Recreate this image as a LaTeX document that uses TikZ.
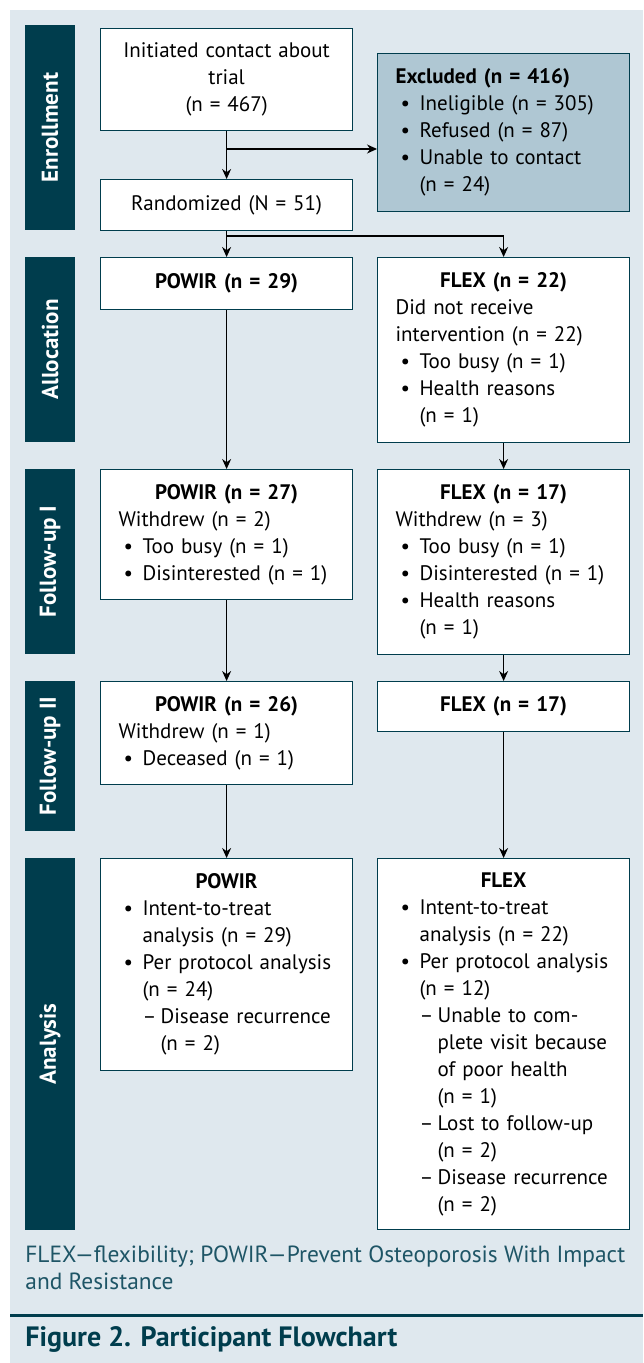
\documentclass[tikz,border=0pt]{standalone}
\usepackage{fontspec}
\setmainfont{PT Sans}
\usetikzlibrary{arrows.meta}

\definecolor{bgcol}{HTML}{DFE8EE}
\definecolor{barcol}{HTML}{003D4D}
\definecolor{exclcol}{HTML}{AFC7D3}
\definecolor{captcol}{HTML}{1E5566}

% bullet and dash items with hanging indent
\newcommand\bul[1]{\par\noindent\hangindent=12pt\hangafter=1\makebox[12pt][l]{\hspace{2.5pt}\textbullet}#1\par}
\newcommand\dsh[1]{\par\noindent\hangindent=21pt\hangafter=1\makebox[21pt][l]{\hspace{12pt}\textendash}#1\par}

\tikzset{
  box/.style={draw=barcol, line width=0.6pt, fill=white, rectangle, anchor=north west,
    inner xsep=9pt, inner ysep=1pt, text width=108pt, align=left,
    font=\fontsize{10.5}{13.5}\selectfont},
  phase/.style={fill=barcol, rotate=90, inner sep=0pt, minimum height=25pt,
    text=white, font=\bfseries\fontsize{11.5}{13}\selectfont},
  flow/.style={-{Stealth[length=5pt,width=4.5pt]}, line width=0.6pt},
}

\begin{document}
\begin{tikzpicture}[x=0.5pt,y=-0.5pt]
\useasboundingbox (0,0) rectangle (643,1363);
\fill[bgcol] (10,10) rectangle (643,1363);

% Phase bars
\node[phase, minimum width=102.5pt] (enr) at (50,127.5) {Enrollment};
\node[phase, minimum width=92.5pt] (alc) at (50,349.5) {Allocation};
\node[phase, minimum width=92.5pt] (fua) at (50,561.5) {Follow-up I};
\node[phase, minimum width=75pt] (fub) at (50,756) {Follow-up II};
\node[phase, minimum width=186pt] (ana) at (50,1044) {Analysis};

% Enrollment
\node[box, align=center, minimum height=51pt] (init) at (100,28)
  {Initiated contact about\\trial\\(n = 467)};
\node[box, fill=exclcol, minimum height=79pt] (excl) at (377,53)
  {\textbf{Excluded (n = 416)}
   \bul{Ineligible (n = 305)}
   \bul{Refused (n = 87)}
   \bul{Unable to contact\newline (n = 24)}};
\node[box, align=center, minimum height=25.5pt] (rand) at (100,179)
  {Randomized (N = 51)};

% Allocation
\node[box, align=center, minimum height=26pt] (powA) at (100,257)
  {\textbf{POWIR (n = 29)}};
\node[box, minimum height=92.5pt] (flexA) at (377,257)
  {{\centering\bfseries FLEX (n = 22)\par}
   Did not receive\newline intervention (n = 22)
   \bul{Too busy (n = 1)}
   \bul{Health reasons\newline (n = 1)}};

% Follow-up I
\node[box, minimum height=65pt] (powB) at (100,469)
  {{\centering\bfseries POWIR (n = 27)\par}
   Withdrew (n = 2)
   \bul{Too busy (n = 1)}
   \bul{Disinterested (n = 1)}};
\node[box, minimum height=92.5pt] (flexB) at (377,469)
  {{\centering\bfseries FLEX (n = 17)\par}
   Withdrew (n = 3)
   \bul{Too busy (n = 1)}
   \bul{Disinterested (n = 1)}
   \bul{Health reasons\newline (n = 1)}};

% Follow-up II
\node[box, minimum height=51.5pt] (powC) at (100,681)
  {{\centering\bfseries POWIR (n = 26)\par}
   Withdrew (n = 1)
   \bul{Deceased (n = 1)}};
\node[box, align=center, minimum height=25pt] (flexC) at (377,681)
  {\textbf{FLEX (n = 17)}};

% Analysis
\node[box, minimum height=106pt] (powD) at (100,858)
  {{\centering\bfseries POWIR\par}
   \bul{Intent-to-treat\newline analysis (n = 29)}
   \bul{Per protocol analysis\newline (n = 24)}
   \dsh{Disease recurrence\newline (n = 2)}};
\node[box, minimum height=185.5pt] (flexD) at (377,858)
  {{\centering\bfseries FLEX\par}
   \bul{Intent-to-treat\newline analysis (n = 22)}
   \bul{Per protocol analysis\newline (n = 12)}
   \dsh{Unable to com-\newline plete visit because\newline of poor health\newline (n = 1)}
   \dsh{Lost to follow-up\newline (n = 2)}
   \dsh{Disease recurrence\newline (n = 2)}};

% Arrows
\coordinate (split) at (226.5,149);
\coordinate (fork) at (226.5,236);
\draw[flow] (init) -- (rand);
\draw[flow] (split) -- (split -| excl.west);
\draw[flow] (rand) -- (powA);
\draw[flow] (fork) -| (flexA.north);
\draw[flow] (powA) -- (powB);
\draw[flow] (flexA) -- (flexB);
\draw[flow] (powB) -- (powC);
\draw[flow] (flexB) -- (flexC);
\draw[flow] (powC) -- (powD);
\draw[flow] (flexC) -- (flexD);

% Caption and title
\node[anchor=north west, align=left, inner sep=0pt, text=captcol,
  font=\fontsize{11.7}{13.5}\selectfont] (capt) at (25,1245)
  {FLEX---flexibility; POWIR---Prevent Osteoporosis With Impact\\and Resistance};
\draw[barcol, line width=1.5pt] (10,1315) -- (643,1315);
\node[anchor=west, inner sep=0pt, text=barcol,
  font=\bfseries\fontsize{14}{16}\selectfont] (title) at (25,1339)
  {Figure 2. Participant Flowchart};

\end{tikzpicture}
\end{document}
